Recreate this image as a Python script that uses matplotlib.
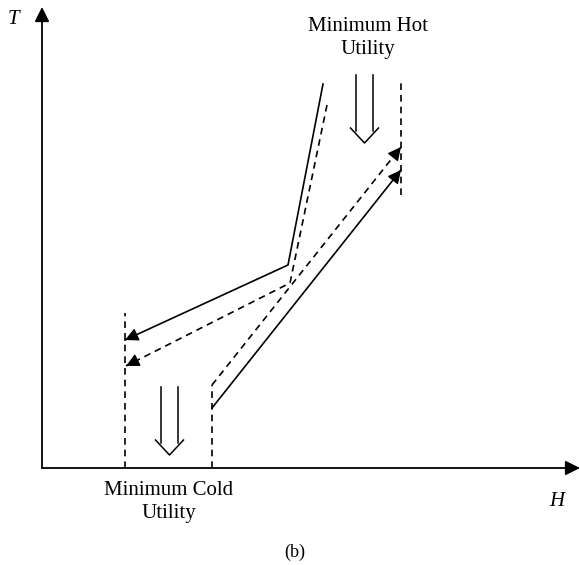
import numpy as np
import matplotlib.pyplot as plt

plt.rcParams['font.family'] = ['Liberation Serif', 'DejaVu Serif']

# composite curves (H, T) in arbitrary units, origin at the axes corner
hot_H = [281, 246, 83]
hot_T = [384, 203, 128]
hot_shift_H = [285, 248, 84]
hot_shift_T = [363, 185, 102]
cold_H = [170, 359]
cold_T = [60, 298]
cold_shift_H = [170, 359]
cold_shift_T = [83, 321]

# utility boundaries
cold_util_H = [83, 170]
cold_util_top = [155, 83]
hot_util_H = 359
hot_util_T = [273, 385]

labels = {'T': 'T', 'H': 'H', 'hot': 'Minimum Hot\nUtility',
          'cold': 'Minimum Cold\nUtility', 'caption': '(b)'}

fig = plt.figure(figsize=(5.8, 5.65), dpi=100)
ax = fig.add_axes([0, 0, 1, 1])
ax.set_xlim(-42, 538)
ax.set_ylim(-97, 468)
ax.axis('off')

dash = (0, (4, 3))
lw = 1.2

# axes with arrows
ax.annotate('', xy=(0, 461), xytext=(0, 0),
            arrowprops=dict(arrowstyle='-|>', color='black', lw=1.3,
                            mutation_scale=22, shrinkA=0, shrinkB=0))
ax.annotate('', xy=(538, 0), xytext=(0, 0),
            arrowprops=dict(arrowstyle='-|>', color='black', lw=1.3,
                            mutation_scale=22, shrinkA=0, shrinkB=0))


def curve(H, T, ls):
    ax.plot(H, T, color='black', lw=lw, linestyle=ls)
    # small filled head at the end of the curve
    d = np.array([H[-1] - H[-2], T[-1] - T[-2]], dtype=float)
    d /= np.hypot(*d)
    start = (H[-1] - d[0] * 2, T[-1] - d[1] * 2)
    ax.annotate('', xy=(H[-1], T[-1]), xytext=start,
                arrowprops=dict(arrowstyle='-|>', color='black', lw=1,
                                mutation_scale=20, shrinkA=0, shrinkB=0))


curve(hot_H, hot_T, '-')
curve(hot_shift_H, hot_shift_T, dash)
curve(cold_H, cold_T, '-')
curve(cold_shift_H, cold_shift_T, dash)

for h, top in zip(cold_util_H, cold_util_top):
    ax.plot([h, h], [0, top], color='black', lw=lw, linestyle=dash)
ax.plot([hot_util_H, hot_util_H], hot_util_T, color='black', lw=lw, linestyle=dash)


def hollow_arrow(xc, top, bottom):
    ax.plot([xc - 8.5, xc - 8.5], [top, bottom + 12], color='black', lw=1.1)
    ax.plot([xc + 8.5, xc + 8.5], [top, bottom + 12], color='black', lw=1.1)
    ax.plot([xc - 14, xc, xc + 14], [bottom + 15, bottom, bottom + 15],
            color='black', lw=1.1)


hollow_arrow(322.5, 393, 325)
hollow_arrow(127.5, 81, 13)

ax.text(326, 430, labels['hot'], ha='center', va='center', fontsize=15,
        linespacing=1.3)
ax.text(127, -34, labels['cold'], ha='center', va='center', fontsize=15,
        linespacing=1.3)
ax.text(-29, 448, labels['T'], ha='center', va='center', fontsize=15,
        style='italic')
ax.text(515, -33, labels['H'], ha='center', va='center', fontsize=15,
        style='italic')
ax.text(253, -84, labels['caption'], ha='center', va='center', fontsize=13)

fig.savefig('out.png', dpi=100)
